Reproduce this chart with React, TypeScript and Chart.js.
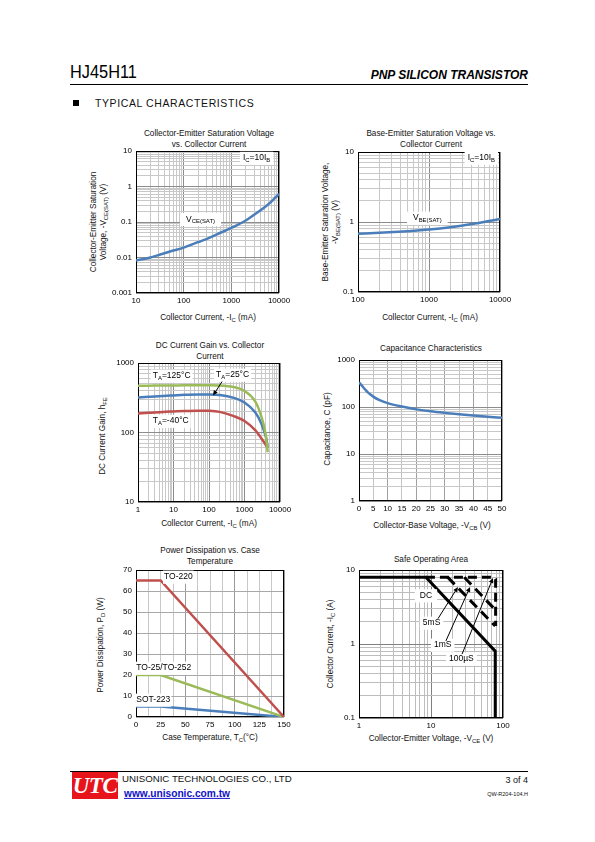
import React, { useEffect, useRef } from "react";
import { Chart, registerables } from "chart.js";

Chart.register(...registerables);

const FONT = "'Liberation Sans', Arial, Helvetica, sans-serif";

// ---------------- data ----------------
// 1. Collector-Emitter saturation voltage vs collector current (mA -> V)
const vceCurrent = [10, 20, 30, 50, 100, 200, 300, 500, 1000, 2000, 3000, 5000, 7000, 10000];
const vceSat = [0.0082, 0.01, 0.0118, 0.0145, 0.019, 0.027, 0.033, 0.045, 0.068, 0.11, 0.16, 0.26, 0.38, 0.62];

// 2. Base-Emitter saturation voltage vs collector current (mA -> V)
const vbeCurrent = [100, 200, 500, 1000, 2000, 3000, 5000, 7000, 10000];
const vbeSat = [0.68, 0.7, 0.74, 0.78, 0.84, 0.89, 0.97, 1.03, 1.1];

// 3. DC current gain vs collector current (mA)
const hfeCurrent = [1, 2, 5, 10, 20, 50, 100, 200, 500, 1000, 2000, 3000, 4000, 4500];
const hfe125 = [470, 472, 475, 476, 477, 478, 478, 475, 450, 395, 280, 168, 90, 52];
const hfe25 = [318, 326, 336, 342, 348, 352, 352, 346, 315, 270, 195, 133, 86, 62];
const hfeM40 = [188, 192, 198, 201, 204, 206, 205, 198, 172, 146, 108, 82, 66, 59];

// 4. Capacitance vs collector-base voltage (V -> pF)
const vcb = [0, 1, 2, 3, 5, 7, 10, 15, 20, 25, 30, 35, 40, 45, 50];
const capacitance = [335, 285, 242, 207, 166, 141, 121, 102, 89, 81, 75, 70, 66, 62, 59];

// 5. Power dissipation vs case temperature (°C -> W)
const caseTemp = [0, 25, 150];
const pdTO220 = [65, 65, 0];
const pdTO252 = [20, 20, 0];
const pdSOT223 = [5, 5, 0];

// 6. Safe operating area (V -> A)
const soaDcV = [1, 8.5, 78, 78];
const soaDcI = [8, 8, 0.8, 0.1];
const soaPulseV = [8.5, 72, 79, 79];
const soaPulseI = [8, 8, 7.5, 1.75];
const soa5msV = [17, 78];
const soa5msI = [8, 1.75];
const soa1msV = [29, 78];
const soa1msI = [8, 2.9];

const BLUE = "#4A7EBB";
const GREEN = "#9BBB59";
const RED = "#C0504D";

// ---------------- helpers ----------------
const pts = (xs: number[], ys: number[]) => xs.map((x, i) => ({ x, y: ys[i] }));

const isDecade = (v: number) => {
  if (!(v > 0)) return false;
  const l = Math.log10(v);
  return Math.abs(l - Math.round(l)) < 1e-6;
};
const decadeLabel = (v: number) => {
  if (!isDecade(v)) return "";
  const r = Math.round(Math.log10(v));
  return r >= 0 ? String(Math.pow(10, r)) : Math.pow(10, r).toFixed(-r);
};
const logTicks = (min: number, max: number) => {
  const out: number[] = [];
  for (let e = Math.floor(Math.log10(min)); e <= Math.ceil(Math.log10(max)); e++) {
    for (let m = 1; m <= 9; m++) {
      const v = Number((m * Math.pow(10, e)).toPrecision(6));
      if (v >= min * (1 - 1e-9) && v <= max * (1 + 1e-9)) out.push(v);
    }
  }
  return out;
};

const YW = 40;
const PT = 10;
const PR = 24;
const XH = 16;

function axisBase(axis: "x" | "y") {
  return {
    border: { display: false },
    ticks: {
      autoSkip: false,
      maxRotation: 0,
      minRotation: 0,
      color: "#000",
      font: { family: FONT, size: 8 },
      padding: axis === "x" ? 3 : 4,
    },
    afterFit: (s: any) => {
      if (axis === "x") s.height = XH;
      else s.width = YW;
    },
  };
}

function logScale(axis: "x" | "y", min: number, max: number, major = "#8c8c8c", minor = "#c8c8c8") {
  const b = axisBase(axis);
  return {
    ...b,
    type: "logarithmic",
    min,
    max,
    afterBuildTicks: (s: any) => {
      s.ticks = logTicks(min, max).map((v) => ({ value: v }));
    },
    ticks: { ...b.ticks, callback: (v: any) => decadeLabel(Number(v)) },
    grid: { drawTicks: false, color: (c: any) => (isDecade(c.tick?.value) ? major : minor) },
  };
}

function linScale(
  axis: "x" | "y",
  min: number,
  max: number,
  step: number,
  labelEvery: number,
  colorFn: (v: number) => string
) {
  const b = axisBase(axis);
  return {
    ...b,
    type: "linear",
    min,
    max,
    afterBuildTicks: (s: any) => {
      const t: any[] = [];
      for (let v = min; v <= max + 1e-9; v += step) t.push({ value: Number(v.toFixed(4)) });
      s.ticks = t;
    },
    ticks: {
      ...b.ticks,
      callback: (v: any) => {
        const n = Number(v);
        return Math.abs(n / labelEvery - Math.round(n / labelEvery)) < 1e-6 ? String(n) : "";
      },
    },
    grid: { drawTicks: false, color: (c: any) => colorFn(c.tick?.value ?? 0) },
  };
}

type Part = [string, boolean];
type Note = { x: number; y: number; parts: Part[]; bg?: boolean; padX?: number; size?: number };
type Arrow = { x1: number; y1: number; x2: number; y2: number };

function drawRich(ctx: CanvasRenderingContext2D, parts: Part[], x: number, y: number, size: number, bg: boolean, padX: number) {
  ctx.save();
  const subSize = size * 0.7;
  let w = 0;
  const widths = parts.map(([t, sub]) => {
    ctx.font = `${sub ? subSize : size}px ${FONT}`;
    const m = ctx.measureText(t).width;
    w += m;
    return m;
  });
  if (bg) {
    ctx.fillStyle = "#fff";
    ctx.fillRect(x - padX, y - size * 0.75, w + padX * 2, size * 1.55);
  }
  ctx.fillStyle = "#000";
  ctx.textBaseline = "middle";
  ctx.textAlign = "left";
  let cx = x;
  parts.forEach(([t, sub], i) => {
    ctx.font = `${sub ? subSize : size}px ${FONT}`;
    ctx.fillText(t, cx, sub ? y + size * 0.3 : y);
    cx += widths[i];
  });
  ctx.restore();
}

function notesPlugin(notes: Note[], arrows: Arrow[] = []) {
  return {
    id: "notes",
    afterDatasetsDraw(chart: any) {
      const ctx: CanvasRenderingContext2D = chart.ctx;
      const xs = chart.scales.x;
      const ys = chart.scales.y;
      notes.forEach((n) =>
        drawRich(ctx, n.parts, xs.getPixelForValue(n.x), ys.getPixelForValue(n.y), n.size ?? 8.5, !!n.bg, n.padX ?? 2)
      );
      arrows.forEach((a) => {
        const x1 = xs.getPixelForValue(a.x1);
        const y1 = ys.getPixelForValue(a.y1);
        const x2 = xs.getPixelForValue(a.x2);
        const y2 = ys.getPixelForValue(a.y2);
        const ang = Math.atan2(y2 - y1, x2 - x1);
        ctx.save();
        ctx.strokeStyle = "#000";
        ctx.fillStyle = "#000";
        ctx.lineWidth = 1;
        ctx.beginPath();
        ctx.moveTo(x1, y1);
        ctx.lineTo(x2 - Math.cos(ang) * 3, y2 - Math.sin(ang) * 3);
        ctx.stroke();
        const L = 5;
        const W = 2.3;
        ctx.beginPath();
        ctx.moveTo(x2, y2);
        ctx.lineTo(x2 - L * Math.cos(ang) + W * Math.sin(ang), y2 - L * Math.sin(ang) - W * Math.cos(ang));
        ctx.lineTo(x2 - L * Math.cos(ang) - W * Math.sin(ang), y2 - L * Math.sin(ang) + W * Math.cos(ang));
        ctx.closePath();
        ctx.fill();
        ctx.restore();
      });
    },
  };
}

const framePlugin = {
  id: "frame",
  beforeDatasetsDraw(chart: any) {
    const { left, top, right, bottom } = chart.chartArea;
    const ctx: CanvasRenderingContext2D = chart.ctx;
    ctx.save();
    ctx.strokeStyle = "#000";
    ctx.lineWidth = 1;
    ctx.strokeRect(Math.round(left) + 0.5, Math.round(top) + 0.5, Math.round(right - left) - 1, Math.round(bottom - top) - 1);
    ctx.restore();
  },
};

function lineDs(data: any[], color: string, extra: any = {}) {
  return {
    data,
    borderColor: color,
    backgroundColor: color,
    borderWidth: 2.5,
    pointRadius: 0,
    fill: false,
    cubicInterpolationMode: "monotone",
    ...extra,
  };
}

function makeConfig(datasets: any[], xScale: any, yScale: any, plugins: any[]) {
  return {
    type: "line",
    data: { datasets },
    options: {
      responsive: false,
      animation: false,
      devicePixelRatio: 1,
      events: [],
      layout: { padding: { top: PT, right: PR, left: 0, bottom: 0 } },
      plugins: { legend: { display: false }, tooltip: { enabled: false }, title: { display: false } },
      scales: { x: xScale, y: yScale },
    },
    plugins: [framePlugin, ...plugins],
  } as any;
}

type Rect = { l: number; t: number; w: number; h: number };

function ChartBox({ rect, make }: { rect: Rect; make: () => any }) {
  const ref = useRef<HTMLCanvasElement>(null);
  useEffect(() => {
    const chart = new Chart(ref.current as HTMLCanvasElement, make());
    return () => chart.destroy();
  }, []);
  const width = rect.w + YW + PR;
  const height = rect.h + PT + XH;
  return (
    <canvas
      ref={ref}
      width={width}
      height={height}
      style={{ position: "absolute", left: rect.l - YW, top: rect.t - PT, width, height }}
    />
  );
}

// ---------------- chart configs ----------------
const sub = (s: string) => (
  <span style={{ fontSize: "0.72em", verticalAlign: "-0.3em", lineHeight: 0 }}>{s}</span>
);

const chart1 = () =>
  makeConfig(
    [lineDs(pts(vceCurrent, vceSat), BLUE)],
    logScale("x", 10, 10000),
    logScale("y", 0.001, 10),
    [
      notesPlugin([
        { x: 1750, y: 6.3, parts: [["I", false], ["C", true], ["=10I", false], ["B", true]], bg: true, padX: 3 },
        { x: 112, y: 0.12, parts: [["V", false], ["CE(SAT)", true]], bg: true, padX: 6 },
      ]),
    ]
  );

const chart2 = () =>
  makeConfig(
    [lineDs(pts(vbeCurrent, vbeSat), BLUE)],
    logScale("x", 100, 10000),
    logScale("y", 0.1, 10),
    [
      notesPlugin([
        { x: 3500, y: 8.2, parts: [["I", false], ["C", true], ["=10I", false], ["B", true]], bg: true, padX: 3 },
        { x: 595, y: 1.14, parts: [["V", false], ["BE(SAT)", true]], bg: true, padX: 6 },
      ]),
    ]
  );

const chart3 = () =>
  makeConfig(
    [
      lineDs(pts(hfeCurrent, hfe125), GREEN),
      lineDs(pts(hfeCurrent, hfe25), BLUE),
      lineDs(pts(hfeCurrent, hfeM40), RED),
    ],
    logScale("x", 1, 10000),
    logScale("y", 10, 1000),
    [
      notesPlugin(
        [
          { x: 2.6, y: 650, parts: [["T", false], ["A", true], ["=125°C", false]], bg: true, padX: 2 },
          { x: 158, y: 672, parts: [["T", false], ["A", true], ["=25°C", false]], bg: true, padX: 2 },
          { x: 2.6, y: 146, parts: [["T", false], ["A", true], ["=-40°C", false]], bg: true, padX: 2 },
        ],
        [{ x1: 233, y1: 540, x2: 130, y2: 340 }]
      ),
    ]
  );

const chart4 = () =>
  makeConfig(
    [lineDs(pts(vcb, capacitance), BLUE)],
    linScale("x", 0, 50, 5, 5, (v) => (v % 10 === 0 ? "#a0a0a0" : "#c4c4c4")),
    logScale("y", 1, 1000),
    []
  );

const chart5 = () =>
  makeConfig(
    [
      lineDs(pts(caseTemp, pdTO220), RED, { cubicInterpolationMode: "default", tension: 0 }),
      lineDs(pts(caseTemp, pdTO252), GREEN, { cubicInterpolationMode: "default", tension: 0 }),
      lineDs(pts(caseTemp, pdSOT223), BLUE, { cubicInterpolationMode: "default", tension: 0 }),
    ],
    linScale("x", 0, 150, 12.5, 25, (v) => (v % 50 === 0 ? "#9a9a9a" : "#c8c8c8")),
    linScale("y", 0, 70, 10, 10, () => "#a8a8a8"),
    [
      notesPlugin([
        { x: 28.4, y: 66.7, parts: [["TO-220", false]], bg: true, padX: 1 },
        { x: 0.3, y: 23.3, parts: [["TO-25/TO-252", false]], bg: true, padX: 1 },
        { x: 0.3, y: 8.1, parts: [["SOT-223", false]], bg: true, padX: 1 },
      ]),
    ]
  );

const blackLine = (data: any[], dash?: number[]) => ({
  data,
  borderColor: "#000",
  backgroundColor: "#000",
  borderWidth: 3,
  pointRadius: 0,
  fill: false,
  tension: 0,
  borderDash: dash,
  borderCapStyle: "butt",
});

const chart6 = () =>
  makeConfig(
    [
      blackLine(pts(soaPulseV, soaPulseI), [9, 5]),
      blackLine(pts(soa5msV, soa5msI), [10, 6]),
      blackLine(pts(soa1msV, soa1msI), [10, 6]),
      blackLine(pts(soaDcV, soaDcI)),
    ],
    logScale("x", 1, 100, "#808080", "#bdbdbd"),
    logScale("y", 0.1, 10, "#808080", "#bdbdbd"),
    [
      notesPlugin(
        [
          { x: 7.0, y: 4.5, parts: [["DC", false]], bg: true, padX: 5 },
          { x: 7.7, y: 1.92, parts: [["5mS", false]], bg: true, padX: 3 },
          { x: 11, y: 0.97, parts: [["1mS", false]], bg: true, padX: 3 },
          { x: 17.8, y: 0.63, parts: [["100µS", false]], bg: true, padX: 3 },
        ],
        [
          { x1: 12.5, y1: 2.2, x2: 23.7, y2: 5.9 },
          { x1: 16.1, y1: 1.1, x2: 34.9, y2: 5.9 },
          { x1: 27, y1: 0.73, x2: 72.6, y2: 7.8 },
        ]
      ),
    ]
  );

// ---------------- text helpers ----------------
const T = ({ x, y, children, size = 8.2, align = "center", style = {} }: any) => (
  <div
    style={{
      position: "absolute",
      left: x,
      top: y,
      transform: align === "center" ? "translate(-50%,-50%)" : align === "right" ? "translate(-100%,-50%)" : "translate(0,-50%)",
      whiteSpace: "nowrap",
      fontSize: size,
      fontFamily: FONT,
      lineHeight: 1.2,
      color: "#111",
      ...style,
    }}
  >
    {children}
  </div>
);

const VT = ({ x, y, children, size = 8.2 }: any) => (
  <div
    style={{
      position: "absolute",
      left: x,
      top: y,
      transform: "translate(-50%,-50%) rotate(-90deg)",
      whiteSpace: "nowrap",
      textAlign: "center",
      fontSize: size,
      fontFamily: FONT,
      lineHeight: "10px",
      color: "#111",
    }}
  >
    {children}
  </div>
);

const P1: Rect = { l: 136, t: 151, w: 143, h: 142 };
const P2: Rect = { l: 358, t: 152, w: 142, h: 140 };
const P3: Rect = { l: 138, t: 363, w: 142, h: 139 };
const P4: Rect = { l: 359, t: 360, w: 143, h: 141 };
const P5: Rect = { l: 136, t: 570, w: 148, h: 147 };
const P6: Rect = { l: 359, t: 570, w: 144, h: 148 };

export default function App() {
  return (
    <div
      style={{
        position: "absolute",
        left: 0,
        top: 0,
        width: 595,
        height: 842,
        background: "#fff",
        fontFamily: FONT,
        overflow: "hidden",
      }}
    >
      {/* header */}
      <div
        style={{
          position: "absolute",
          left: 70,
          top: 62,
          fontSize: 19,
          lineHeight: "20px",
          transform: "scaleX(0.86)",
          transformOrigin: "left top",
        }}
      >
        HJ45H11
      </div>
      <T x={528} y={75} size={12} align="right" style={{ fontWeight: "bold", fontStyle: "italic", color: "#000" }}>
        PNP SILICON TRANSISTOR
      </T>
      <div style={{ position: "absolute", left: 70, top: 84, width: 458, height: 1, background: "#000" }} />
      <div style={{ position: "absolute", left: 73, top: 100, width: 6, height: 6, background: "#000" }} />
      <T x={95} y={103} size={10.5} align="left" style={{ letterSpacing: 0.6 }}>
        TYPICAL CHARACTERISTICS
      </T>

      {/* chart 1 */}
      <T x={209} y={134}>Collector-Emitter Saturation Voltage</T>
      <T x={209} y={145}>vs. Collector Current</T>
      <VT x={99} y={222}>
        Collector-Emitter Saturation
        <br />
        Voltage, -V{sub("CE(SAT)")} (V)
      </VT>
      <T x={208} y={318}>Collector Current, -I{sub("C")} (mA)</T>
      <ChartBox rect={P1} make={chart1} />

      {/* chart 2 */}
      <T x={431} y={134}>Base-Emitter Saturation Voltage vs.</T>
      <T x={431} y={145}>Collector Current</T>
      <VT x={331} y={222}>
        Base-Emitter Saturation Voltage,
        <br />
        -V{sub("BE(SAT)")} (V)
      </VT>
      <T x={430} y={318}>Collector Current, -I{sub("C")} (mA)</T>
      <ChartBox rect={P2} make={chart2} />

      {/* chart 3 */}
      <T x={210} y={346}>DC Current Gain vs. Collector</T>
      <T x={210} y={357}>Current</T>
      <VT x={103} y={436}>
        DC Current Gain, h{sub("FE")}
      </VT>
      <T x={209} y={524}>Collector Current, -I{sub("C")} (mA)</T>
      <ChartBox rect={P3} make={chart3} />

      {/* chart 4 */}
      <T x={431} y={349}>Capacitance Characteristics</T>
      <VT x={328} y={429}>Capacitance, C (pF)</VT>
      <T x={432} y={526}>Collector-Base Voltage, -V{sub("CB")} (V)</T>
      <ChartBox rect={P4} make={chart4} />

      {/* chart 5 */}
      <T x={210} y={551}>Power Dissipation vs. Case</T>
      <T x={210} y={562}>Temperature</T>
      <VT x={101} y={645}>
        Power Dissipation, P{sub("D")} (W)
      </VT>
      <T x={210} y={738}>Case Temperature, T{sub("C")}(°C)</T>
      <ChartBox rect={P5} make={chart5} />

      {/* chart 6 */}
      <T x={431} y={560}>Safe Operating Area</T>
      <VT x={331} y={644}>
        Collector Current, -I{sub("C")} (A)
      </VT>
      <T x={431} y={739}>Collector-Emitter Voltage, -V{sub("CE")} (V)</T>
      <ChartBox rect={P6} make={chart6} />

      {/* footer */}
      <div style={{ position: "absolute", left: 70, top: 771, width: 458, height: 1, background: "#000" }} />
      <div
        style={{
          position: "absolute",
          left: 72,
          top: 772,
          width: 46,
          height: 27,
          background: "#e8141b",
          color: "#fff",
          fontFamily: "'Liberation Serif', 'DejaVu Serif', serif",
          fontStyle: "italic",
          fontWeight: "bold",
          fontSize: 23,
          lineHeight: "27px",
          textAlign: "center",
          letterSpacing: -0.5,
        }}
      >
        UTC
      </div>
      <T x={122} y={779} size={9.7} align="left">
        UNISONIC TECHNOLOGIES CO., LTD
      </T>
      <T x={124} y={794} size={10.2} align="left" style={{ fontWeight: "bold", color: "#1010c8", textDecoration: "underline" }}>
        www.unisonic.com.tw
      </T>
      <T x={528} y={780} size={9} align="right">
        3 of 4
      </T>
      <T x={528} y={794} size={5.5} align="right">
        QW-R204-104.H
      </T>
    </div>
  );
}
